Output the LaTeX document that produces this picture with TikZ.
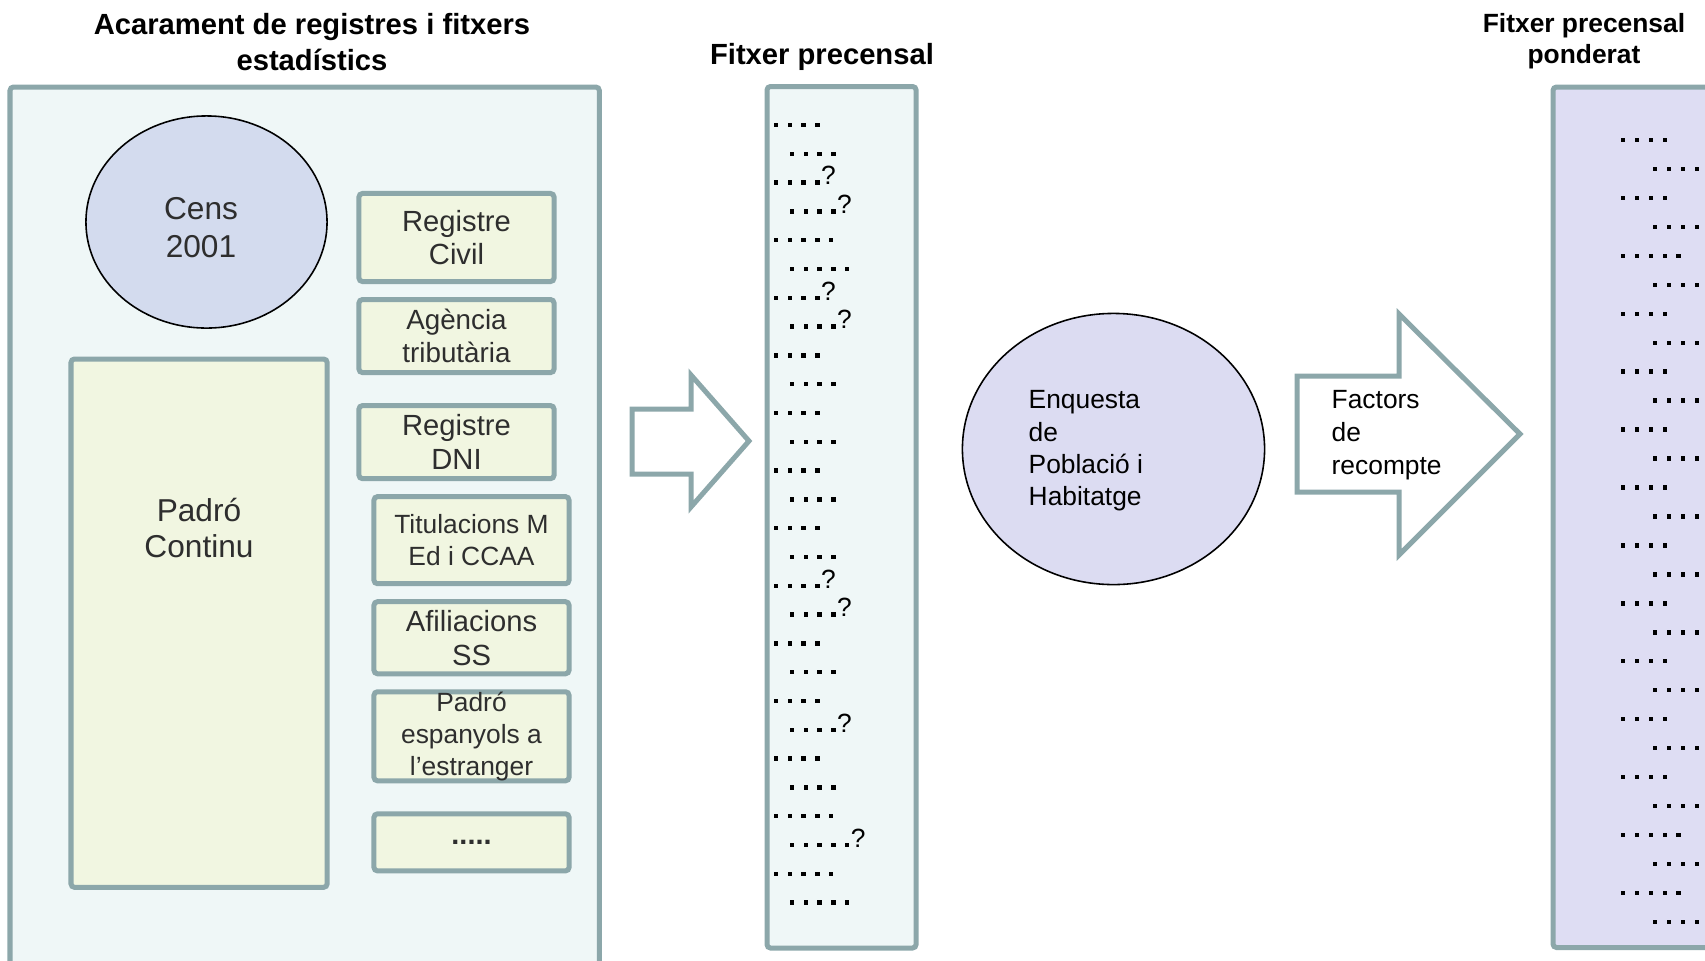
\documentclass[tikz,border=0pt]{standalone}
\usepackage{fontspec}
\setmainfont{Liberation Sans}
\usetikzlibrary{shapes.geometric,positioning}

\definecolor{edge}{HTML}{8CA7AA}
\definecolor{panelbg}{HTML}{EFF7F7}
\definecolor{srcbg}{HTML}{F1F6E1}
\definecolor{censbg}{HTML}{D3DBEE}
\definecolor{enqbg}{HTML}{DCDCF2}
\definecolor{pondbg}{HTML}{DEDDF3}
\definecolor{lbltxt}{HTML}{2E2E2E}

\begin{document}
\begin{tikzpicture}[
    x=0.01cm, y=-0.01cm,
    panel/.style={rectangle, draw=edge, line width=0.05cm, rounded corners=1pt, anchor=north west, inner sep=0pt, outer sep=0pt},
    src/.style={rectangle, draw=edge, fill=srcbg, line width=0.05cm, rounded corners=1pt, minimum width=1.95cm, inner sep=0pt, outer sep=0pt, align=center, text=lbltxt, font=\fontsize{8.3}{9.6}\selectfont},
    oval/.style={ellipse, draw=black, line width=0.45pt, inner sep=0pt},
    head/.style={font=\fontsize{8.3}{10}\selectfont\bfseries, align=center, inner sep=0pt},
    lbl/.style={font=\fontsize{7.5}{9.2}\selectfont, align=left, anchor=west, inner sep=0pt},
    blockarrow/.style={draw=edge, fill=white, line width=0.05cm},
    qmark/.style={font=\fontsize{7.5}{7.5}\selectfont, inner sep=0pt, anchor=base west}
]
\useasboundingbox (0,0) rectangle (1705,960);
\clip (0,0) rectangle (1705,960);

% Titles
\node[head] (hacar) at (312,42) {Acarament de registres i fitxers\\estadístics};
\node[head] (hpre) at (822,57) {Fitxer precensal};
\node[head, font=\fontsize{7.5}{8.8}\selectfont\bfseries] (hpond) at (1584,41) {Fitxer precensal\\ponderat};

% Panels
\node[panel, fill=panelbg, minimum width=5.89cm, minimum height=9.5cm] (acar) at (10,87) {};
\node[panel, fill=panelbg, minimum width=1.49cm, minimum height=8.61cm] (pre) at (767,86.5) {};
\node[panel, fill=pondbg, minimum width=2cm, minimum height=8.6cm] (pond) at (1553,87) {};

% Sources being matched
\node[oval, fill=censbg, minimum width=2.41cm, minimum height=2.12cm] (cens) at (206.5,222) {};
\node[align=center, text=lbltxt, font=\fontsize{9}{10.8}\selectfont, inner sep=0pt] (censtxt) at (201,228) {Cens\\2001};
\node[src, anchor=north west, minimum width=2.56cm, minimum height=5.28cm] (padro) at (71,359) {};
\node[align=center, text=lbltxt, font=\fontsize{9}{10.5}\selectfont, inner sep=0pt] (padrotxt) at (199,528) {Padró\\Continu};

\node[src, minimum height=0.88cm] (civil) at (456.5,237.5) {Registre\\Civil};
\node[src, minimum height=0.73cm, below=0.18cm of civil, font=\fontsize{7.9}{9.4}\selectfont] (agencia) {Agència\\tributària};
\node[src, minimum height=0.73cm, below=0.33cm of agencia] (dni) {Registre\\DNI};
\node[src, minimum height=0.87cm, below=0.18cm of dni, xshift=0.15cm, font=\fontsize{7.5}{9.3}\selectfont] (titul) {Titulacions M\\Ed i CCAA};
\node[src, minimum height=0.72cm, below=0.18cm of titul] (afil) {Afiliacions\\SS};
\node[src, minimum height=0.89cm, below=0.18cm of afil] (padroext) {};
\node[align=center, text=lbltxt, font=\fontsize{7.5}{9.1}\selectfont, inner sep=0pt] (padroexttxt) at (padroext) {Padró\\espanyols a\\l’estranger};
\node[src, minimum height=0.57cm, below=0.33cm of padroext, font=\fontsize{8.2}{9}\selectfont\bfseries] (altres) {.....};

% Big arrows
\draw[blockarrow] (632,409) -- (691,409) -- (691,375) -- (749,441) -- (691,507) -- (691,474) -- (632,474) -- cycle;
\draw[blockarrow] (1297,376) -- (1399,376) -- (1399,314) -- (1520,434) -- (1399,555) -- (1399,492) -- (1297,492) -- cycle;
\node[lbl, font=\fontsize{7.5}{9.3}\selectfont] (factxt) at (1331,435) {Factors\\de\\recompte};

% Survey
\node[oval, fill=enqbg, minimum width=3.02cm, minimum height=2.71cm] (enq) at (1113.5,449) {};
\node[lbl] (enqtxt) at (1028,451) {Enquesta\\de\\Població i\\Habitatge};

% Records of the pre-census file
\foreach \r/\n/\q in {1/4/0,2/4/0,3/4/1,4/4/1,5/5/0,6/5/0,7/4/1,8/4/1,9/4/0,10/4/0,11/4/0,12/4/0,13/4/0,14/4/0,15/4/0,16/4/0,17/4/1,18/4/1,19/4/0,20/4/0,21/4/0,22/4/1,23/4/0,24/4/0,25/5/0,26/5/1,27/5/0,28/5/0}{
    \pgfmathsetmacro{\xa}{isodd(\r) ? 776 : 792}
    \pgfmathsetmacro{\ya}{125+(\r-1)*28.8}
    \foreach \k in {1,...,\n}
        \fill ({\xa+(\k-1)*13.8-2.2},{\ya-2.2}) rectangle ++(4.4,4.4);
    \ifnum\q=1
        \node[qmark] (q\r) at ({\xa+(\n-1)*13.8+3},{\ya+2.2}) {?};
    \fi
}

% Records of the weighted file
\foreach \r/\n in {1/4,2/4,3/4,4/4,5/5,6/4,7/4,8/4,9/4,10/4,11/4,12/4,13/4,14/4,15/4,16/4,17/4,18/4,19/4,20/4,21/4,22/4,23/4,24/4,25/5,26/4,27/5,28/4}{
    \pgfmathsetmacro{\xa}{isodd(\r) ? 1623 : 1655}
    \pgfmathsetmacro{\ya}{140+(\r-1)*28.96}
    \foreach \k in {1,...,\n}
        \fill ({\xa+(\k-1)*13.9-2.2},{\ya-2.2}) rectangle ++(4.4,4.4);
}

\end{tikzpicture}
\end{document}
